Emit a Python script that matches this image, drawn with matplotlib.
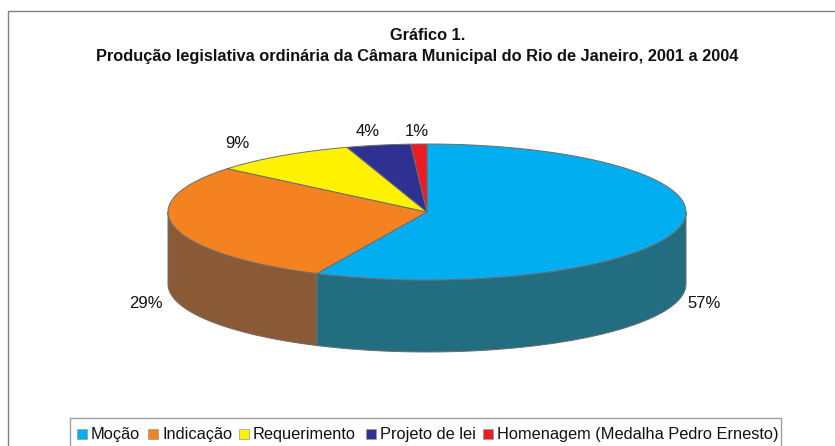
import numpy as np
import matplotlib
matplotlib.use("Agg")
import matplotlib.pyplot as plt

plt.rcParams['font.family'] = ['Liberation Sans', 'DejaVu Sans']

categories = ['Moção', 'Indicação', 'Requerimento', 'Projeto de lei', 'Homenagem (Medalha Pedro Ernesto)']
values = [57, 29, 9, 4, 1]
colors = ['#00aeef', '#f58220', '#fff200', '#2e3192', '#ed1c24']
side_colors = ['#226e80', '#8a5a36', '#8a8400', '#1a1c55', '#80101a']
pct_labels = ['57%', '29%', '9%', '4%', '1%']
label_pos = [(704, 303), (146, 304), (237, 143), (368, 132), (417, 131)]
legend_x = [77, 148, 239, 366, 483]

# pie geometry in pixels
cx, cy = 427, 212
rx, ry = 259, 68
depth = 72
edge = '#6d6d6d'

fig = plt.figure(figsize=(8.35, 4.46), dpi=100)
ax = fig.add_axes([0, 0, 1, 1])
ax.set_xlim(0, 835)
ax.set_ylim(446, 0)
ax.axis('off')


def ellipse_xy(angles):
    # angles in degrees, clockwise from the top
    a = np.radians(angles)
    return cx + rx * np.sin(a), cy - ry * np.cos(a)


# outer frame, only top and left are visible
ax.plot([835, 8, 8], [10.5, 10.5, 446], color='#808080', lw=1.0, zorder=1)

bounds = np.concatenate([[0], np.cumsum(values)]) * 360.0 / sum(values)

# side wall, only the front half of the ellipse
for i in range(len(values)):
    start = max(bounds[i], 90)
    end = min(bounds[i + 1], 270)
    if end <= start:
        continue
    t = np.linspace(start, end, 80)
    x, y = ellipse_xy(t)
    ax.fill(np.r_[x, x[::-1]], np.r_[y, y[::-1] + depth], facecolor=side_colors[i],
            edgecolor=edge, lw=0.7, zorder=2)

# top face
for i in range(len(values)):
    t = np.linspace(bounds[i], bounds[i + 1], 120)
    x, y = ellipse_xy(t)
    ax.fill(np.r_[cx, x], np.r_[cy, y], facecolor=colors[i], edgecolor=edge, lw=0.7, zorder=3)

for lab, (lx, ly) in zip(pct_labels, label_pos):
    ax.text(lx, ly, lab, fontsize=12, ha='center', va='center', color='#111111')

ax.text(428, 35, 'Gráfico 1.', fontsize=11.8, fontweight='bold', ha='center', va='center', color='#111111')
ax.text(417, 56, 'Produção legislativa ordinária da Câmara Municipal do Rio de Janeiro, 2001 a 2004',
        fontsize=11.8, fontweight='bold', ha='center', va='center', color='#111111')

# legend box runs off the bottom of the image
ax.plot([70, 70, 781, 781], [446, 418, 418, 446], color='#a0a0a0', lw=1.0, zorder=4)
for name, col, lx in zip(categories, colors, legend_x):
    ax.fill([lx, lx + 10, lx + 10, lx], [429, 429, 439, 439], facecolor=col, edgecolor='#9a9a9a', lw=0.5, zorder=5)
    ax.text(lx + 14, 435, name, fontsize=11.75, ha='left', va='center', color='#111111', zorder=5)

fig.savefig('out.png', dpi=100)
